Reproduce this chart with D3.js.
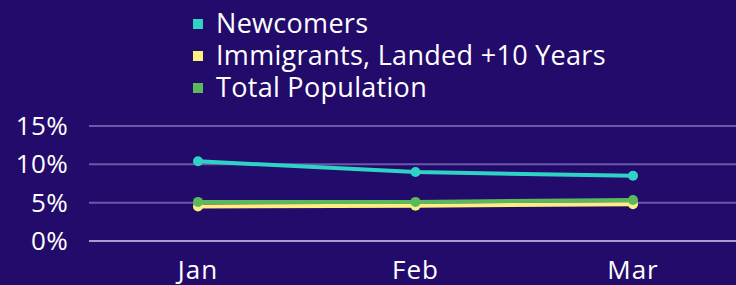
<!DOCTYPE html>
<meta charset="utf-8">
<style>
  html, body { margin: 0; padding: 0; background: #230b6b; }
  svg { display: block; font-family: "Open Sans", sans-serif; }
</style>
<svg id="chart" width="736" height="285"></svg>
<script src="https://cdn.jsdelivr.net/npm/d3@7"></script>
<script>
  'use strict';

  const months = ["Jan", "Feb", "Mar"];
  const newcomers = [10.4, 9.0, 8.5];
  const immigrants = [4.5, 4.6, 4.8];
  const totalPop = [5.1, 5.1, 5.35];
  const yTicks = [0, 5, 10, 15];

  const series = [
    {name: "Newcomers", values: newcomers, color: "#2ed3c6"},
    {name: "Immigrants, Landed +10 Years", values: immigrants, color: "#fdee80"},
    {name: "Total Population", values: totalPop, color: "#5cb85c"}
  ];

  const svg = d3.select("#chart");

  const x = d3.scalePoint().domain(months).range([198, 633]);
  const y = d3.scaleLinear().domain([0, 15]).range([241, 126]);

  // gridlines
  svg.append("g").selectAll("line")
    .data(yTicks)
    .enter().append("line")
    .attr("x1", 89).attr("x2", 736)
    .attr("y1", d => y(d)).attr("y2", d => y(d))
    .attr("stroke", d => d === 0 ? "#a79bd0" : "#6a58a8")
    .attr("stroke-width", 2);

  svg.append("g").selectAll("text")
    .data(yTicks)
    .enter().append("text")
    .attr("x", 68).attr("y", d => y(d))
    .attr("dy", "0.35em")
    .attr("text-anchor", "end")
    .attr("fill", "#fff")
    .style("font-size", "26px")
    .style("letter-spacing", "0.3px")
    .text(d => d + "%");

  svg.append("g").selectAll("text")
    .data(months)
    .enter().append("text")
    .attr("x", d => x(d)).attr("y", 279)
    .attr("text-anchor", "middle")
    .attr("fill", "#fff")
    .style("font-size", "26px")
    .style("letter-spacing", "1px")
    .text(d => d);

  const line = d3.line()
    .x((d, i) => x(months[i]))
    .y(d => y(d));

  series.forEach(s => {
    const g = svg.append("g");
    g.append("path")
      .attr("d", line(s.values))
      .attr("fill", "none")
      .attr("stroke", s.color)
      .attr("stroke-width", 4);
    g.selectAll("circle")
      .data(s.values)
      .enter().append("circle")
      .attr("cx", (d, i) => x(months[i]))
      .attr("cy", d => y(d))
      .attr("r", 5)
      .attr("fill", s.color);
  });

  // legend
  const legend = svg.append("g").selectAll("g")
    .data(series)
    .enter().append("g")
    .attr("transform", (d, i) => `translate(193, ${24 + i * 32})`);

  legend.append("rect")
    .attr("x", 0).attr("y", -5)
    .attr("width", 10).attr("height", 10)
    .attr("fill", d => d.color);

  legend.append("text")
    .attr("x", 23).attr("y", 0)
    .attr("dy", "0.35em")
    .attr("fill", "#fff")
    .style("font-size", "27px")
    .style("letter-spacing", "0.3px")
    .text(d => d.name);
</script>
